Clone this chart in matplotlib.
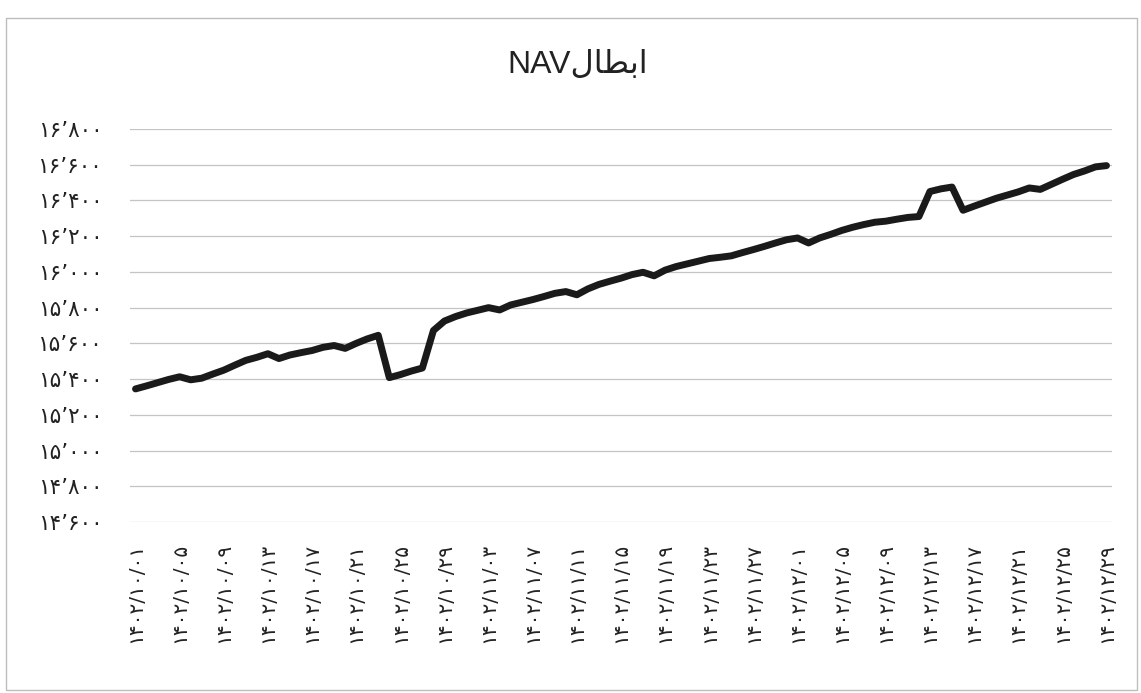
import matplotlib
matplotlib.use("Agg")
import matplotlib.pyplot as plt
from matplotlib.patches import Rectangle

# ---- data ----
title_text = "NAV" + "\uFEDD\uFE8E\uFEC4\uFE91\uFE8D"   # "ابطالNAV" in visual (shaped) order

x_tick_labels = [
    "1402/10/01", "1402/10/05", "1402/10/09", "1402/10/13", "1402/10/17",
    "1402/10/21", "1402/10/25", "1402/10/29", "1402/11/03", "1402/11/07",
    "1402/11/11", "1402/11/15", "1402/11/19", "1402/11/23", "1402/11/27",
    "1402/12/01", "1402/12/05", "1402/12/09", "1402/12/13", "1402/12/17",
    "1402/12/21", "1402/12/25", "1402/12/29",
]

nav = [
    15345, 15362, 15380, 15398, 15413, 15396, 15405, 15428, 15450, 15478,
    15505, 15522, 15542, 15515, 15535, 15548, 15560, 15578, 15588, 15572,
    15600, 15625, 15645, 15408, 15425, 15445, 15462, 15672, 15725, 15750,
    15770, 15785, 15800, 15787, 15815, 15830, 15845, 15862, 15880, 15890,
    15872, 15905, 15930, 15948, 15965, 15985, 15998, 15978, 16010, 16030,
    16045, 16060, 16075, 16082, 16090, 16108, 16125, 16143, 16162, 16180,
    16190, 16162, 16190, 16210, 16232, 16250, 16265, 16278, 16284, 16295,
    16305, 16310, 16450, 16465, 16475, 16345, 16368, 16390, 16412, 16430,
    16448, 16470, 16462, 16490, 16518, 16545, 16565, 16588, 16595,
]

y_ticks = [14600, 14800, 15000, 15200, 15400, 15600, 15800,
           16000, 16200, 16400, 16600, 16800]

FA = str.maketrans("0123456789", "۰۱۲۳۴۵۶۷۸۹")


def fa_num(v):
    s = f"{v:,}".replace(",", "\u066C")
    return s.translate(FA)


W, H = 1141, 693
fig = plt.figure(figsize=(W / 100, H / 100), dpi=100)
fig.patch.set_facecolor("white")

# outer chart border
fig.patches.append(Rectangle((6 / W, 1 - 690 / H), (1137 - 6) / W, (690 - 18) / H,
                             transform=fig.transFigure, fill=False,
                             edgecolor="#bdbdbd", linewidth=1.0))

left, right, top, bottom = 130, 1112, 129, 522
ax = fig.add_axes([left / W, 1 - bottom / H, (right - left) / W, (bottom - top) / H])

xs = list(range(len(nav)))
ax.plot(xs, nav, color="#1a1a1a", linewidth=5, solid_joinstyle="round",
        solid_capstyle="round", zorder=3)

ax.set_xlim(-0.5, len(nav) - 0.5)
ax.set_ylim(y_ticks[0], y_ticks[-1])
ax.set_yticks(y_ticks)
ax.set_yticklabels([fa_num(v) for v in y_ticks], family=["DejaVu Sans"],
                   fontsize=15.5, color="#222222")
ax.set_xticks(xs[::4])
ax.set_xticklabels([s.translate(FA) for s in x_tick_labels], rotation=90,
                   family=["DejaVu Sans"], fontsize=14.5, color="#222222")
ax.tick_params(axis="both", length=0)
ax.tick_params(axis="y", pad=20)
ax.tick_params(axis="x", pad=15)
ax.grid(axis="y", color="#c4c4c4", linewidth=0.9)
ax.set_axisbelow(True)
for sp in ax.spines.values():
    sp.set_visible(False)

fig.text(578 / W, 1 - 65 / H, title_text, ha="center", va="center",
         fontsize=23, family=["Liberation Sans", "DejaVu Sans"], color="#222222")

fig.savefig("out.png", dpi=100, facecolor="white")
